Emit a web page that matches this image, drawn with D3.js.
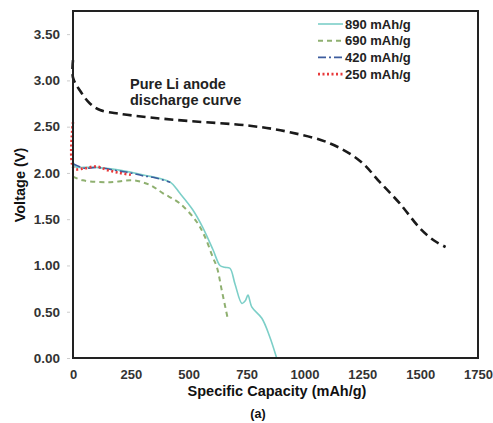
<!DOCTYPE html>
<html>
<head>
<meta charset="utf-8">
<script src="https://cdn.jsdelivr.net/npm/d3@7"></script>
<style>
  body { margin: 0; background: #fff; }
  text { font-family: "Liberation Sans", Arial, sans-serif; font-weight: bold; }
</style>
</head>
<body>
<div id="chart"></div>
<script>
// values: [capacity mAh/g, voltage V]
let pureLi = [[0, 3.22], [0, 3.03], [30, 2.89], [73, 2.75], [117, 2.68], [200, 2.64], [330, 2.60],
  [505, 2.56], [764, 2.51], [937, 2.44], [1110, 2.32], [1240, 2.13], [1326, 1.90], [1412, 1.67],
  [1500, 1.40], [1560, 1.27], [1610, 1.20]];
let cap890 = [[0, 2.2], [8, 2.07], [50, 2.06], [100, 2.06], [200, 2.03], [300, 1.98], [420, 1.90],
  [462, 1.78], [518, 1.60], [561, 1.41], [605, 1.17], [635, 1.00], [655, 0.98], [678, 0.97],
  [700, 0.80], [730, 0.59], [745, 0.62], [756, 0.68], [773, 0.55], [816, 0.43], [850, 0.23], [880, 0.0]];
let cap690 = [[0, 1.96], [43, 1.92], [160, 1.90], [259, 1.92], [332, 1.87], [389, 1.78], [462, 1.67],
  [535, 1.47], [570, 1.31], [604, 1.09], [622, 0.98], [643, 0.73], [669, 0.42]];
let cap420 = [[0, 2.1], [50, 2.05], [100, 2.06], [200, 2.02], [250, 2.0], [300, 1.97], [350, 1.95], [420, 1.90]];
let cap250 = [[0, 2.55], [3, 2.05], [50, 2.05], [100, 2.07], [150, 2.03], [200, 2.0], [250, 1.98]];

let xTicks = [0, 250, 500, 750, 1000, 1250, 1500, 1750];
let yTicks = [0, 0.5, 1.0, 1.5, 2.0, 2.5, 3.0, 3.5];
let legendLabels = ['890 mAh/g', '690 mAh/g', '420 mAh/g', '250 mAh/g'];

let width = 493, height = 423;
let margin = { top: 11, right: 15, bottom: 65, left: 73 };

let svg = d3.select('#chart').append('svg')
  .attr('width', width)
  .attr('height', height);

let x = d3.scaleLinear().domain([0, 1750]).range([margin.left, width - margin.right]);
let y = d3.scaleLinear().domain([0, 3.75]).range([height - margin.bottom, margin.top]);

// y ticks and labels
let yAxis = svg.append('g')
  .attr('transform', `translate(${margin.left - 3}, 0)`)
  .call(d3.axisLeft(y).tickValues(yTicks).tickSize(3).tickPadding(7).tickFormat(d3.format('.2f')));
yAxis.select('.domain').remove();
yAxis.selectAll('line').attr('stroke', '#ccc');
yAxis.selectAll('text').attr('font-size', 13.5).attr('fill', '#333').attr('font-family', '"Liberation Sans", Arial, sans-serif');

// x ticks and labels
let xAxis = svg.append('g')
  .attr('transform', `translate(0, ${height - margin.bottom})`)
  .call(d3.axisBottom(x).tickValues(xTicks).tickSize(0).tickPadding(12).tickFormat(d3.format('d')));
xAxis.select('.domain').remove();
xAxis.selectAll('text').attr('font-size', 13).attr('fill', '#333').attr('font-family', '"Liberation Sans", Arial, sans-serif');

let line = d3.line().x(d => x(d[0])).y(d => y(d[1])).curve(d3.curveCatmullRom.alpha(0.5));

let series = [
  { data: cap890, color: '#7ccfc8', width: 1.6, dash: null },
  { data: cap690, color: '#8fb070', width: 2, dash: '5,4' },
  { data: cap420, color: '#3d5d9e', width: 1.6, dash: '8,3,2,3' },
  { data: cap250, color: '#e8393a', width: 2.6, dash: '2,2.5' }
];

svg.append('path')
  .attr('d', line(pureLi))
  .attr('fill', 'none')
  .attr('stroke', '#1a1a1a')
  .attr('stroke-width', 2.6)
  .attr('stroke-dasharray', '9,5');

series.forEach(s => {
  svg.append('path')
    .attr('d', line(s.data))
    .attr('fill', 'none')
    .attr('stroke', s.color)
    .attr('stroke-width', s.width)
    .attr('stroke-dasharray', s.dash);
});

// frame
svg.append('rect')
  .attr('x', margin.left)
  .attr('y', margin.top)
  .attr('width', width - margin.left - margin.right)
  .attr('height', height - margin.top - margin.bottom)
  .attr('fill', 'none')
  .attr('stroke', '#222')
  .attr('stroke-width', 2);

// legend
let legend = svg.append('g').attr('transform', 'translate(318, 24)');
legendLabels.forEach((label, i) => {
  let g = legend.append('g').attr('transform', `translate(0, ${i * 16.7})`);
  g.append('line')
    .attr('x1', 0).attr('x2', 25)
    .attr('stroke', series[i].color)
    .attr('stroke-width', series[i].width)
    .attr('stroke-dasharray', series[i].dash);
  g.append('text')
    .attr('x', 27)
    .attr('dy', '0.35em')
    .attr('font-size', 13)
    .attr('fill', '#222')
    .text(label);
});

// annotation
svg.append('text').attr('x', 130).attr('y', 89).attr('font-size', 14.5).attr('fill', '#222').text('Pure Li anode');
svg.append('text').attr('x', 130).attr('y', 105).attr('font-size', 14.5).attr('fill', '#222').text('discharge curve');

// axis titles
svg.append('text')
  .attr('x', 277).attr('y', 396)
  .attr('text-anchor', 'middle')
  .attr('font-size', 14.5)
  .attr('fill', '#111')
  .text('Specific Capacity (mAh/g)');

svg.append('text')
  .attr('transform', 'translate(25, 185) rotate(-90)')
  .attr('text-anchor', 'middle')
  .attr('font-size', 14.5)
  .attr('fill', '#111')
  .text('Voltage (V)');

svg.append('text')
  .attr('x', 258).attr('y', 418)
  .attr('text-anchor', 'middle')
  .attr('font-size', 12.5)
  .attr('fill', '#111')
  .text('(a)');
</script>
</body>
</html>
